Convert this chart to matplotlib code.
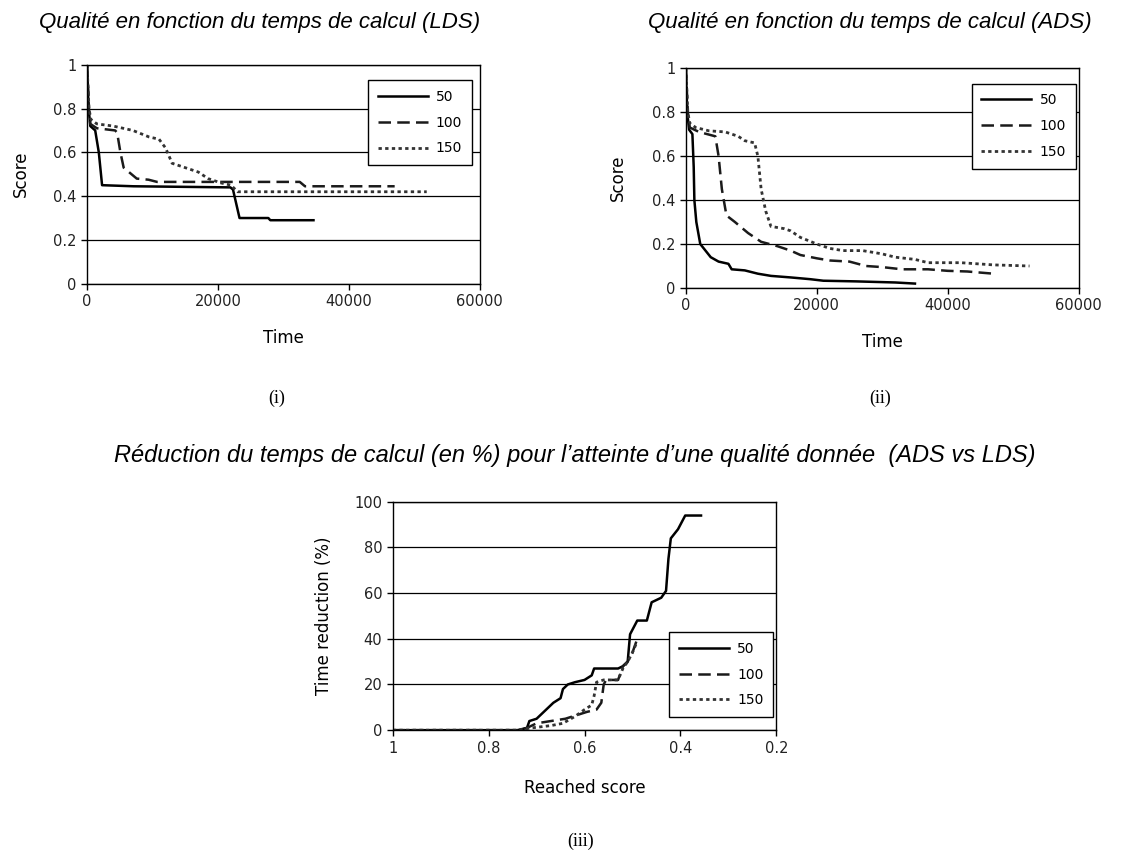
import matplotlib
matplotlib.use("Agg")
import matplotlib.pyplot as plt

plt.rcParams.update({
    "font.family": "DejaVu Sans",
    "font.size": 10.5,
    "axes.linewidth": 1.0,
    "xtick.direction": "out",
    "ytick.direction": "out",
})

SERIES = ["50", "100", "150"]
STYLES = ["-", (0, (5, 2.5)), (0, (1.2, 1.2))]
WIDTHS = [1.8, 1.8, 2.0]
COLORS = ["#000000", "#1a1a1a", "#333333"]

# (i) LDS
lds_50_t = [0, 250, 500, 1250, 1800, 2300, 7100, 21900, 22300, 23300, 27700, 28000, 34600]
lds_50_s = [1.0, 0.80, 0.72, 0.70, 0.60, 0.45, 0.445, 0.44, 0.43, 0.30, 0.30, 0.29, 0.29]
lds_100_t = [0, 300, 500, 1500, 4300, 4600, 5100, 5600, 6400, 7600, 9400, 10700, 32500, 33300, 47000]
lds_100_s = [1.0, 0.80, 0.73, 0.71, 0.70, 0.69, 0.60, 0.53, 0.51, 0.48, 0.475, 0.465, 0.465, 0.445, 0.445]
lds_150_t = [0, 300, 600, 1500, 4000, 7000, 9500, 11000, 12000, 13000, 15000, 17000, 18500,
             20500, 22000, 23000, 51900]
lds_150_s = [1.0, 0.80, 0.75, 0.73, 0.72, 0.70, 0.67, 0.66, 0.62, 0.55, 0.53, 0.51, 0.48,
             0.46, 0.45, 0.42, 0.42]

# (ii) ADS
ads_50_t = [0, 200, 500, 1000, 1200, 1300, 1600, 2200, 3000, 3800, 5000, 6500, 7000, 9000,
            11000, 13000, 16000, 19000, 21000, 26000, 32000, 35000]
ads_50_s = [1.0, 0.80, 0.72, 0.70, 0.55, 0.40, 0.30, 0.20, 0.17, 0.14, 0.12, 0.11, 0.085, 0.08,
            0.065, 0.055, 0.048, 0.04, 0.033, 0.03, 0.025, 0.02]
ads_100_t = [0, 300, 600, 2000, 4500, 5000, 5500, 6200, 7500, 9500, 11500, 14000, 16000, 17500,
             20000, 22000, 25000, 27500, 30000, 33000, 37000, 40000, 43000, 47000]
ads_100_s = [1.0, 0.80, 0.73, 0.71, 0.69, 0.60, 0.45, 0.33, 0.30, 0.25, 0.21, 0.19, 0.17, 0.15,
             0.135, 0.125, 0.12, 0.10, 0.095, 0.085, 0.085, 0.078, 0.075, 0.065]
ads_150_t = [0, 300, 600, 1500, 3500, 6000, 8000, 9000, 10500, 11000, 11500, 12200, 13000,
             15000, 16000, 17500, 20000, 22000, 24000, 27000, 30000, 32000, 35000, 37000,
             42000, 47000, 52500]
ads_150_s = [1.0, 0.80, 0.75, 0.73, 0.715, 0.71, 0.69, 0.67, 0.66, 0.60, 0.45, 0.35, 0.28,
             0.27, 0.26, 0.23, 0.20, 0.18, 0.17, 0.17, 0.155, 0.14, 0.13, 0.115,
             0.115, 0.105, 0.10]

# (iii) reduction vs reached score
red_50_q = [1.0, 0.74, 0.72, 0.715, 0.70, 0.69, 0.68, 0.665, 0.65, 0.645, 0.635, 0.62, 0.60,
            0.585, 0.58, 0.53, 0.52, 0.51, 0.505, 0.49, 0.47, 0.465, 0.46, 0.44, 0.43, 0.425,
            0.42, 0.405, 0.39, 0.357]
red_50_r = [0, 0, 1, 4, 5, 7, 9, 12, 14, 18, 20, 21, 22, 24, 27, 27, 28, 30, 42, 48, 48, 52,
            56, 58, 61, 75, 84, 88, 94, 94]
red_100_q = [1.0, 0.74, 0.72, 0.70, 0.67, 0.64, 0.61, 0.595, 0.575, 0.565, 0.56, 0.555, 0.53,
             0.52, 0.51, 0.50, 0.49]
red_100_r = [0, 0, 1, 3, 4, 5, 7, 8, 9, 12, 20, 22, 22, 28, 30, 34, 40]
red_150_q = [1.0, 0.74, 0.71, 0.67, 0.645, 0.62, 0.60, 0.585, 0.58, 0.575, 0.56, 0.53, 0.52,
             0.51, 0.50, 0.492]
red_150_r = [0, 0, 1, 2, 3, 6, 9, 11, 15, 21, 22, 22, 27, 30, 34, 38]


def style_axes(ax):
    ax.yaxis.grid(True, color="black", linewidth=0.9)
    ax.set_axisbelow(True)
    ax.tick_params(length=4, width=1.0, colors="black", labelcolor="#222222")


def add_legend(ax, bbox):
    leg = ax.legend(loc="upper left", bbox_to_anchor=bbox, frameon=True, fancybox=False,
                    edgecolor="black", framealpha=1, fontsize=10, handlelength=3.6,
                    borderpad=0.7, labelspacing=0.85, handletextpad=0.6, borderaxespad=0)
    leg.get_frame().set_linewidth(1.0)


fig = plt.figure(figsize=(11.45, 8.52), dpi=100)

# (i)
ax1 = fig.add_axes([0.076, 0.667, 0.343, 0.257])
for t, s, lab, ls, lw, c in zip([lds_50_t, lds_100_t, lds_150_t], [lds_50_s, lds_100_s, lds_150_s],
                                SERIES, STYLES, WIDTHS, COLORS):
    ax1.plot(t, s, linestyle=ls, linewidth=lw, color=c, label=lab)
ax1.set_xlim(0, 60000)
ax1.set_ylim(0, 1)
ax1.set_xticks([0, 20000, 40000, 60000])
ax1.set_yticks([0, 0.2, 0.4, 0.6, 0.8, 1])
ax1.set_yticklabels(["0", "0.2", "0.4", "0.6", "0.8", "1"])
ax1.set_xlabel("Time", fontsize=12, labelpad=14)
ax1.set_ylabel("Score", fontsize=12, labelpad=17)
style_axes(ax1)
add_legend(ax1, (0.715, 0.93))

# (ii)
ax2 = fig.add_axes([0.599, 0.662, 0.343, 0.258])
for t, s, lab, ls, lw, c in zip([ads_50_t, ads_100_t, ads_150_t], [ads_50_s, ads_100_s, ads_150_s],
                                SERIES, STYLES, WIDTHS, COLORS):
    ax2.plot(t, s, linestyle=ls, linewidth=lw, color=c, label=lab)
ax2.set_xlim(0, 60000)
ax2.set_ylim(0, 1)
ax2.set_xticks([0, 20000, 40000, 60000])
ax2.set_yticks([0, 0.2, 0.4, 0.6, 0.8, 1])
ax2.set_yticklabels(["0", "0.2", "0.4", "0.6", "0.8", "1"])
ax2.set_xlabel("Time", fontsize=12, labelpad=14)
ax2.set_ylabel("Score", fontsize=12, labelpad=18)
style_axes(ax2)
add_legend(ax2, (0.728, 0.93))

# (iii)
ax3 = fig.add_axes([0.343, 0.143, 0.335, 0.268])
for q, r, lab, ls, lw, c in zip([red_50_q, red_100_q, red_150_q], [red_50_r, red_100_r, red_150_r],
                                SERIES, STYLES, WIDTHS, COLORS):
    ax3.plot(q, r, linestyle=ls, linewidth=lw, color=c, label=lab)
ax3.set_xlim(1, 0.2)
ax3.set_ylim(0, 100)
ax3.set_xticks([1, 0.8, 0.6, 0.4, 0.2])
ax3.set_xticklabels(["1", "0.8", "0.6", "0.4", "0.2"])
ax3.set_yticks([0, 20, 40, 60, 80, 100])
ax3.set_xlabel("Reached score", fontsize=12, labelpad=17)
ax3.set_ylabel("Time reduction (%)", fontsize=12, labelpad=15)
style_axes(ax3)
add_legend(ax3, (0.72, 0.43))

# titres
fig.text(0.227, 0.967, "Qualité en fonction du temps de calcul (LDS)", ha="center", va="baseline",
         fontsize=16, style="italic", family="Liberation Sans")
fig.text(0.760, 0.967, "Qualité en fonction du temps de calcul (ADS)", ha="center", va="baseline",
         fontsize=16, style="italic", family="Liberation Sans")
fig.text(0.502, 0.458, "Réduction du temps de calcul (en %) pour l\u2019atteinte d\u2019une qualité donnée  (ADS vs LDS)",
         ha="center", va="baseline", fontsize=17, style="italic", family="Liberation Sans")

fig.text(0.242, 0.533, "(i)", ha="center", va="center", fontsize=13, family="Liberation Serif")
fig.text(0.769, 0.533, "(ii)", ha="center", va="center", fontsize=13, family="Liberation Serif")
fig.text(0.507, 0.012, "(iii)", ha="center", va="center", fontsize=13, family="Liberation Serif")

fig.savefig("out.png", dpi=100)
